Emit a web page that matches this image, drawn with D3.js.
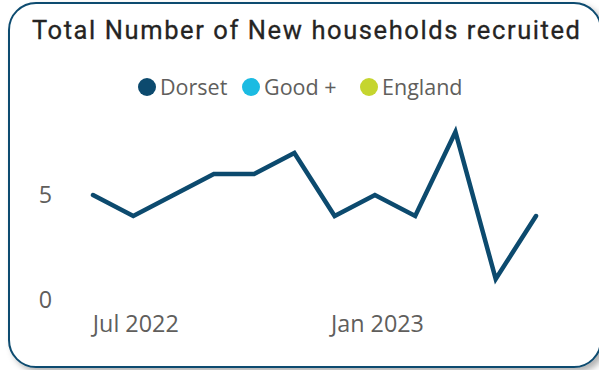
<!DOCTYPE html>
<html>
<head>
<meta charset="utf-8">
<script src="https://cdn.jsdelivr.net/npm/d3@7"></script>
<style>
html,body{margin:0;padding:0;background:#fff;}
svg{display:block;}
</style>
</head>
<body>
<svg id="chart" width="599" height="370"></svg>
<script>
const months = ["Jun 2022","Jul 2022","Aug 2022","Sep 2022","Oct 2022","Nov 2022","Dec 2022","Jan 2023","Feb 2023","Mar 2023","Apr 2023","May 2023"];
const dorset = [5,4,5,6,6,7,4,5,4,8,1,4];
const xTickLabels = ["Jul 2022","Jan 2023"];
const yTicks = [0,5];
const legendNames = ["Dorset","Good +","England"];
const legendColors = ["#0c4a6e","#1bbbe2","#c5d52f"];
const title = "Total Number of New households recruited";

const svg = d3.select("#chart");
const defs = svg.append("defs");
const f = defs.append("filter").attr("id","sh").attr("x","-10%").attr("y","-10%").attr("width","130%").attr("height","130%");
f.append("feDropShadow").attr("dx",4).attr("dy",4).attr("stdDeviation",3).attr("flood-color","#000").attr("flood-opacity",0.3);

svg.append("rect").attr("x",9).attr("y",3).attr("width",592).attr("height",364).attr("rx",27).attr("ry",27)
  .attr("fill","#fff").attr("stroke","#0e4c70").attr("stroke-width",2).attr("filter","url(#sh)");

svg.append("text").attr("x",32).attr("y",39)
  .attr("font-family","Roboto, sans-serif").attr("font-size",25.5).attr("font-weight",400)
  .attr("fill","#252423").attr("stroke","#252423").attr("stroke-width",0.3)
  .attr("textLength",548).attr("lengthAdjust","spacing").text(title);

const legendX = [147,251,369];
const lg = svg.append("g");
legendNames.forEach((n,i)=>{
  lg.append("circle").attr("cx",legendX[i]).attr("cy",87).attr("r",9).attr("fill",legendColors[i]);
  lg.append("text").attr("x",legendX[i]+13).attr("y",95).attr("font-family","'Open Sans', sans-serif")
    .attr("font-size",21.5).attr("fill","#605e5c").text(n);
});

const x = d3.scalePoint().domain(months).range([93,536]);
const y = d3.scaleLinear().domain([0,8]).range([300,132]);

const xAxis = d3.axisBottom(x).tickValues(xTickLabels).tickSize(0).tickPadding(0);
const gx = svg.append("g").attr("transform","translate(2,315)").call(xAxis);
gx.select(".domain").remove();
gx.selectAll("text").attr("font-family","'Open Sans', sans-serif").attr("font-size",17).attr("fill","#605e5c");
const s0 = gx.select("text").node().getComputedTextLength();
gx.selectAll("text").attr("font-size",17*86/s0);

const yAxis = d3.axisLeft(y).tickValues(yTicks).tickSize(0).tickPadding(0);
const gy = svg.append("g").attr("transform","translate(52,0)").call(yAxis);
gy.select(".domain").remove();
gy.selectAll("text").attr("font-family","'Open Sans', sans-serif").attr("font-size",17*86/s0).attr("fill","#605e5c");

const line = d3.line().x((d,i)=>x(months[i])).y(d=>y(d));
svg.append("path").datum(dorset).attr("d",line).attr("fill","none")
  .attr("stroke","#0c4a6e").attr("stroke-width",4.5).attr("stroke-linejoin","miter").attr("stroke-linecap","round");
</script>
</body>
</html>
